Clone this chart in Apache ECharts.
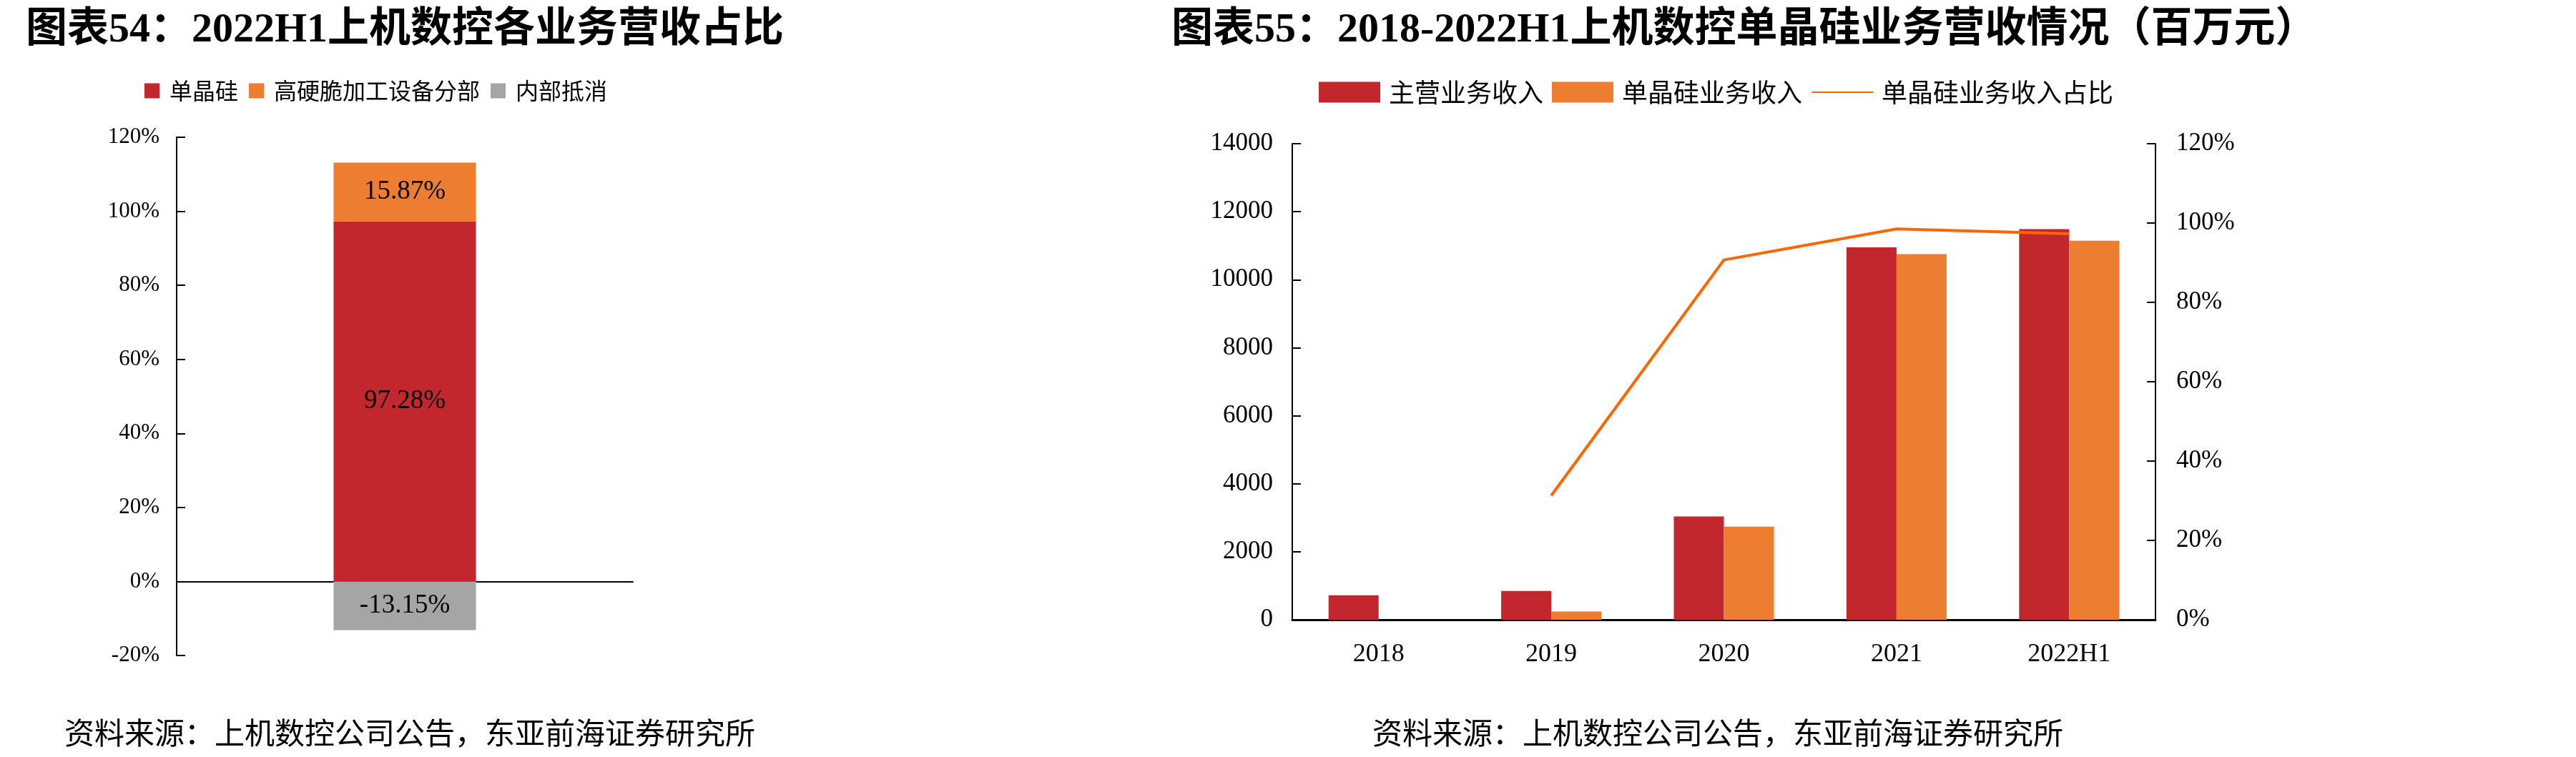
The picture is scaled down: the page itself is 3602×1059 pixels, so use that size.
<!DOCTYPE html>
<html><head><meta charset="utf-8">
<script src="https://cdn.jsdelivr.net/npm/echarts@6/dist/echarts.min.js"></script>
<style>html,body{margin:0;padding:0;background:#fff}#c{width:3602px;height:1059px}</style>
</head><body><div id="c"></div>
<script>
// ---- Left chart data (2022H1 share by segment, %) ----
const leftCategories = ['2022H1'];
const siliconShare = [97.28];
const hardBrittleShare = [15.87];
const internalOffset = [-13.15];

// ---- Right chart data (million CNY) ----
const years = ['2018', '2019', '2020', '2021', '2022H1'];
const mainRevenue = [720, 845, 3040, 10950, 11490];
const siliconRevenue = [null, 240, 2740, 10750, 11145];
const siliconRatio = [null, 31.3, 90.7, 98.5, 97.3];

const SERIF = "'Liberation Serif', 'Noto Sans CJK SC', serif";
const CJK = "'Noto Sans CJK SC', 'Liberation Serif', sans-serif";
const RED = '#C1272D', ORANGE = '#ED7D31', GRAY = '#A5A5A5', LINE = '#FF6600';

const axisLineBlack = w => ({ show: true, onZero: true, lineStyle: { color: '#000', width: w } });
const tickInside = { show: true, inside: true, length: 12, lineStyle: { color: '#000', width: 2 } };

const chart = echarts.init(document.getElementById('c'), null, { renderer: 'canvas' });
chart.setOption({
  backgroundColor: '#fff',
  animation: false,
  title: [
    { text: '图表54：2022H1上机数控各业务营收占比', left: 31, top: 9,
      textStyle: { fontFamily: SERIF, fontSize: 58, fontWeight: 'bold', color: '#000' } },
    { text: '图表55：2018-2022H1上机数控单晶硅业务营收情况（百万元）', left: 1633, top: 9,
      textStyle: { fontFamily: SERIF, fontSize: 58, fontWeight: 'bold', color: '#000' } },
    { text: '资料来源：上机数控公司公告，东亚前海证券研究所', left: 85, top: 999,
      textStyle: { fontFamily: CJK, fontSize: 42, fontWeight: 'normal', color: '#000' } },
    { text: '资料来源：上机数控公司公告，东亚前海证券研究所', left: 1914, top: 999,
      textStyle: { fontFamily: CJK, fontSize: 42, fontWeight: 'normal', color: '#000' } }
  ],
  legend: [
    { data: ['单晶硅', '高硬脆加工设备分部', '内部抵消'], left: 197, top: 106,
      itemWidth: 21, itemHeight: 21, itemGap: 15, icon: 'rect',
      textStyle: { fontFamily: CJK, fontSize: 32, color: '#000', padding: [0, 0, 0, 9] } },
    { data: [
        { name: '主营业务收入', icon: 'rect' },
        { name: '单晶硅业务收入', icon: 'rect' },
        { name: '单晶硅业务收入占比', itemStyle: { opacity: 0 } }
      ],
      left: 1839, top: 106, itemWidth: 86, itemHeight: 29, itemGap: 12,
      textStyle: { fontFamily: CJK, fontSize: 36, color: '#000', padding: [0, 0, 0, 7] } }
  ],
  grid: [
    { left: 247, top: 192, width: 638, height: 725 },
    { left: 1807, top: 201, width: 1207, height: 666 }
  ],
  xAxis: [
    { type: 'category', gridIndex: 0, data: leftCategories,
      axisLine: axisLineBlack(2), axisTick: { show: false }, axisLabel: { show: false } },
    { type: 'category', gridIndex: 1, data: years,
      axisLine: axisLineBlack(3), axisTick: { show: false },
      axisLabel: { color: '#000', fontFamily: SERIF, fontSize: 36, margin: 31 } }
  ],
  yAxis: [
    { type: 'value', gridIndex: 0, min: -20, max: 120, interval: 20,
      axisLine: { show: true, lineStyle: { color: '#000', width: 2 } }, axisTick: tickInside,
      splitLine: { show: false },
      axisLabel: { color: '#000', fontFamily: SERIF, fontSize: 31, margin: 24, formatter: '{value}%' } },
    { type: 'value', gridIndex: 1, min: 0, max: 14000, interval: 2000,
      axisLine: { show: true, lineStyle: { color: '#000', width: 2 } }, axisTick: tickInside,
      splitLine: { show: false },
      axisLabel: { color: '#000', fontFamily: SERIF, fontSize: 35, margin: 27, formatter: v => String(v) } },
    { type: 'value', gridIndex: 1, position: 'right', min: 0, max: 120, interval: 20,
      axisLine: { show: true, lineStyle: { color: '#000', width: 2 } }, axisTick: tickInside,
      splitLine: { show: false },
      axisLabel: { color: '#000', fontFamily: SERIF, fontSize: 35, margin: 29, formatter: '{value}%' } }
  ],
  series: [
    { name: '单晶硅', type: 'bar', xAxisIndex: 0, yAxisIndex: 0, stack: 'share', barWidth: 199,
      data: siliconShare, itemStyle: { color: RED },
      label: { show: true, position: 'inside', color: '#000', fontFamily: SERIF, fontSize: 37, formatter: '{c}%' } },
    { name: '高硬脆加工设备分部', type: 'bar', xAxisIndex: 0, yAxisIndex: 0, stack: 'share', barWidth: 199,
      data: hardBrittleShare, itemStyle: { color: ORANGE },
      label: { show: true, position: 'inside', color: '#000', fontFamily: SERIF, fontSize: 37, formatter: '{c}%' } },
    { name: '内部抵消', type: 'bar', xAxisIndex: 0, yAxisIndex: 0, stack: 'share', barWidth: 199,
      data: internalOffset, itemStyle: { color: GRAY },
      label: { show: true, position: 'inside', color: '#000', fontFamily: SERIF, fontSize: 37, formatter: '{c}%' } },
    { name: '主营业务收入', type: 'bar', xAxisIndex: 1, yAxisIndex: 1, barWidth: 70, barGap: '0%',
      data: mainRevenue, itemStyle: { color: RED } },
    { name: '单晶硅业务收入', type: 'bar', xAxisIndex: 1, yAxisIndex: 1, barWidth: 70, barGap: '0%',
      data: siliconRevenue, itemStyle: { color: ORANGE } },
    { name: '单晶硅业务收入占比', type: 'line', xAxisIndex: 1, yAxisIndex: 2, symbol: 'none',
      data: siliconRatio, lineStyle: { color: LINE, width: 4 }, itemStyle: { color: LINE }, z: 5 }
  ]
});
</script>
</body></html>
